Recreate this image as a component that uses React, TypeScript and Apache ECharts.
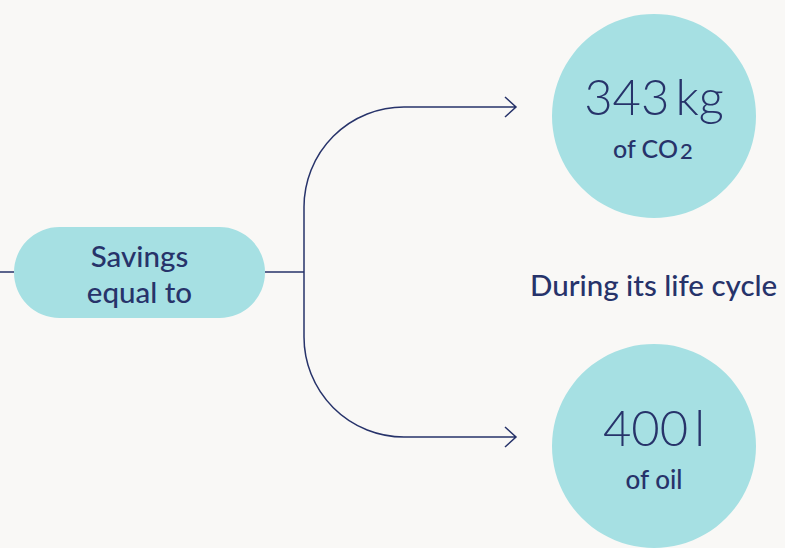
import React, { useEffect, useRef } from "react";
import * as echarts from "echarts";

// ---- data ----
const sourceLabel = ["Savings", "equal to"];
const amounts = ["343", "400"];
const units = ["kg", "l"];
const subjects = ["of CO", "of oil"];
const subscripts = ["2", ""];
const middleNote = ["During its life cycle"];

const NAVY = "#27336a";
const TEAL = "#a6e0e3";
const BG = "#f9f8f6";
const FONT = "Lato, 'Noto Sans', sans-serif";

const connectorD =
  "M0 272 L14 272 M265 272 L304 272 " +
  "M516 107 L404 107 A100 100 0 0 0 304 207 L304 337 A100 100 0 0 0 404 437 L516 437 " +
  "M505 97 L516 107 L505 117 M505 427 L516 437 L505 447";

let registered = false;
function ensureShape() {
  if (registered) return;
  echarts.graphic.registerShape(
    "connector",
    echarts.graphic.extendPath(connectorD, {}) as any
  );
  registered = true;
}

export default function App() {
  const ref = useRef<HTMLDivElement>(null);
  useEffect(() => {
    document.body.style.margin = "0";
    ensureShape();
    const chart = echarts.init(ref.current!, null, { renderer: "svg" });

    const circleCenters = [
      { cx: 654, cy: 116 },
      { cx: 654, cy: 446 },
    ];
    const elements: any[] = [
      {
        type: "rect",
        shape: { x: 0, y: 0, width: 785, height: 548 },
        style: { fill: BG },
        silent: true,
      },
      {
        type: "connector",
        x: 0,
        y: 0,
        scaleX: 1,
        scaleY: 1,
        style: { fill: "none", stroke: NAVY, lineWidth: 1.5 },
      },
      {
        type: "rect",
        shape: { x: 14, y: 227, width: 251, height: 91, r: 45.5 },
        style: { fill: TEAL },
      },
      {
        type: "text",
        x: 139.5,
        y: 273,
        style: {
          text: sourceLabel.join("\n"),
          fill: NAVY,
          font: `500 29.5px ${FONT}`,
          lineHeight: 36,
          align: "center",
          verticalAlign: "middle",
        },
      },
      {
        type: "text",
        x: 530,
        y: 284,
        style: {
          text: middleNote[0],
          fill: NAVY,
          font: `500 29.5px ${FONT}`,
          align: "left",
          verticalAlign: "middle",
        },
      },
    ];

    circleCenters.forEach((c, i) => {
      elements.push({
        type: "circle",
        shape: { cx: c.cx, cy: c.cy, r: 102 },
        style: { fill: TEAL },
      });
      elements.push({
        type: "text",
        x: c.cx,
        y: c.cy - 19 - (i === 0 ? 1 : 0),
        style: {
          text: amounts[i] + "\u2009" + units[i],
          fill: NAVY,
          font: `300 49px ${FONT}`,
          align: "center",
          verticalAlign: "middle",
        },
      });
      if (subscripts[i]) {
        elements.push({
          type: "text",
          x: 678,
          y: c.cy + 31.5,
          style: {
            text: subjects[i],
            fill: NAVY,
            font: `500 25px ${FONT}`,
            align: "right",
            verticalAlign: "middle",
          },
        });
        elements.push({
          type: "text",
          x: 680,
          y: c.cy + 34.5,
          style: {
            text: subscripts[i],
            fill: NAVY,
            font: `500 22px ${FONT}`,
            align: "left",
            verticalAlign: "middle",
          },
        });
      } else {
        elements.push({
          type: "text",
          x: c.cx,
          y: c.cy + 33,
          style: {
            text: subjects[i],
            fill: NAVY,
            font: `500 26px ${FONT}`,
            align: "center",
            verticalAlign: "middle",
          },
        });
      }
    });

    chart.setOption({
      animation: false,
      backgroundColor: BG,
      graphic: { elements },
    });
    return () => chart.dispose();
  }, []);
  return <div ref={ref} style={{ width: 785, height: 548 }} />;
}
